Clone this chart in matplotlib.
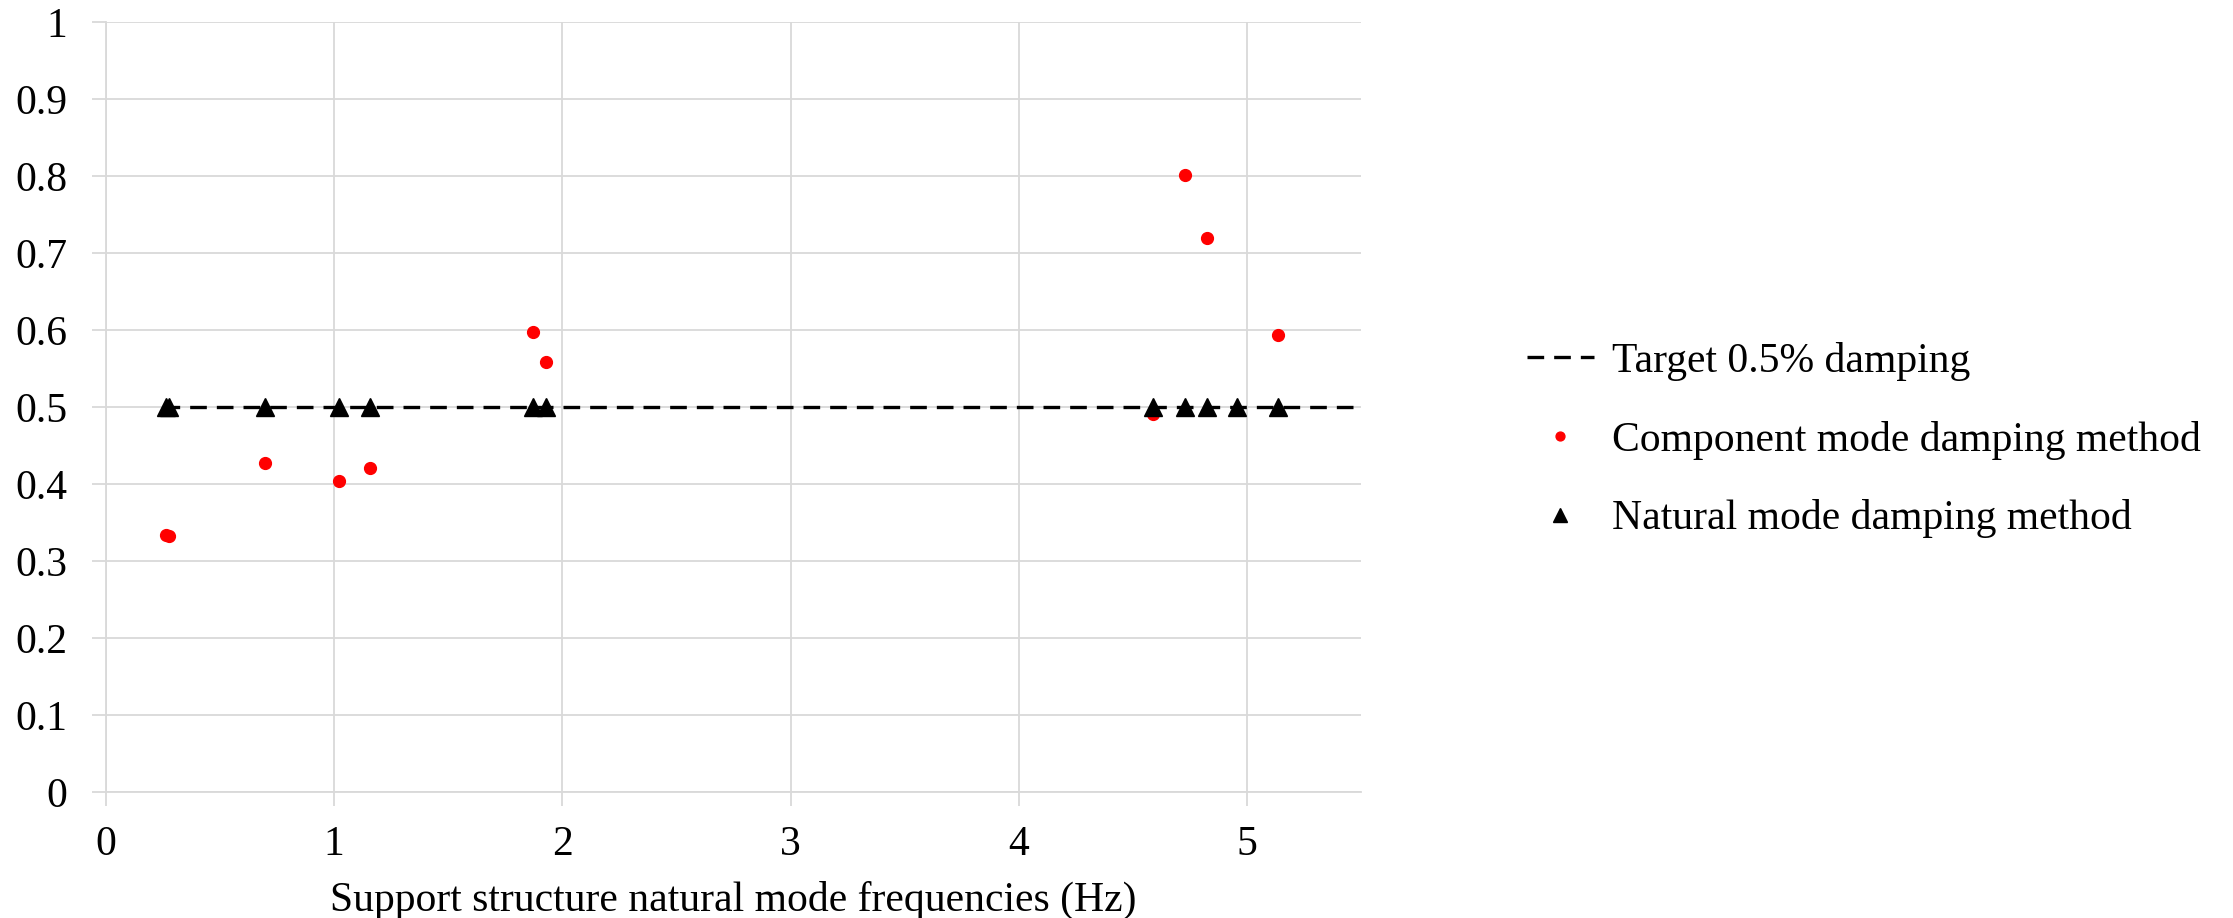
import matplotlib
matplotlib.use("Agg")
import matplotlib.pyplot as plt
import numpy as np

plt.rcParams['font.family'] = ['Liberation Serif', 'DejaVu Serif']

# Data
freq_natural = [0.264, 0.274, 0.696, 1.023, 1.155, 1.873, 1.927, 4.589, 4.730, 4.824, 4.957, 5.135]
damp_natural = [0.5, 0.5, 0.5, 0.5, 0.5, 0.5, 0.5, 0.5, 0.5, 0.5, 0.5, 0.5]

freq_component = [0.264, 0.274, 0.696, 1.023, 1.155, 1.873, 1.927, 4.589, 4.730, 4.824, 5.135]
damp_component = [0.334, 0.333, 0.427, 0.404, 0.421, 0.598, 0.559, 0.491, 0.801, 0.719, 0.594]

target_x = [0.25, 5.5]
target_y = [0.5, 0.5]

x_ticks = [0, 1, 2, 3, 4, 5]
y_ticks = [0, 0.1, 0.2, 0.3, 0.4, 0.5, 0.6, 0.7, 0.8, 0.9, 1.0]

labels = ["Target 0.5% damping", "Component mode damping method", "Natural mode damping method"]
x_label = "Support structure natural mode frequencies (Hz)"

W, H = 2233, 918
fig = plt.figure(figsize=(W / 100, H / 100), dpi=100)
ax = fig.add_axes([106 / W, 1 - 792 / H, (1361 - 106) / W, (792 - 22) / H])

grid_c = '#d9d9d9'
ax.set_xlim(0, 5.5)
ax.set_ylim(0, 1)
ax.set_xticks(x_ticks)
ax.set_yticks(y_ticks)
ax.set_yticklabels([f"{v:g}" for v in y_ticks])
ax.set_xticklabels([f"{v:g}" for v in x_ticks])
ax.grid(True, color=grid_c, linewidth=1.3, zorder=0)
ax.set_axisbelow(True)
for s in ['top', 'right']:
    ax.spines[s].set_visible(False)
for s in ['left', 'bottom']:
    ax.spines[s].set_color(grid_c)
    ax.spines[s].set_linewidth(1.3)
ax.tick_params(axis='both', colors=grid_c, labelcolor='black', labelsize=30,
               length=10, width=1.3, direction='out')
ax.tick_params(axis='y', pad=18)
ax.tick_params(axis='x', pad=14)

l1, = ax.plot(target_x, target_y, color='black', linewidth=2.4,
              linestyle=(0, (5, 3)), zorder=2)
l2, = ax.plot(freq_component, damp_component, linestyle='none', marker='o',
              markersize=8.5, color='#ff0000', zorder=3)
l3, = ax.plot(freq_natural, damp_natural, linestyle='none', marker='^',
              markersize=13, color='black', zorder=4)

ax.set_xlabel(x_label, fontsize=30, labelpad=12)

fig.legend([l1, l2, l3], labels, loc='center left',
           bbox_to_anchor=(1527 / W, 1 - 440 / H), frameon=False,
           fontsize=30, handlelength=1.6, handletextpad=0.45,
           labelspacing=0.95, borderpad=0, borderaxespad=0, markerscale=0.75)

fig.savefig("out.png", dpi=100)
